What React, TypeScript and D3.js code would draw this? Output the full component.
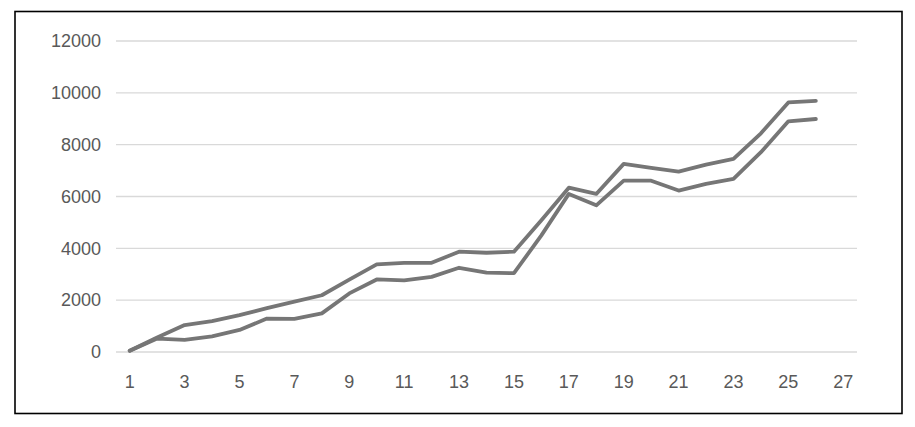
import React from "react";
import * as d3 from "d3";

const categories: number[] = d3.range(1, 28);
const xTickLabels: number[] = [1, 3, 5, 7, 9, 11, 13, 15, 17, 19, 21, 23, 25, 27];
const yTicks: number[] = [0, 2000, 4000, 6000, 8000, 10000, 12000];

const seriesUpper: number[] = [
  50, 560, 1040, 1190, 1420, 1690, 1940, 2190, 2790, 3380,
  3440, 3440, 3870, 3830, 3870, 5080, 6340, 6100, 7260, 7100,
  6960, 7230, 7450, 8440, 9630, 9690,
];
const seriesLower: number[] = [
  50, 520, 470, 600, 850, 1290, 1280, 1490, 2260, 2800,
  2760, 2900, 3250, 3060, 3040, 4500, 6100, 5660, 6610, 6610,
  6230, 6490, 6680, 7710, 8900, 8990,
];

const W = 915;
const H = 427;

export default function App() {
  const x = d3.scaleBand<number>().domain(categories).range([116, 857]);
  const y = d3.scaleLinear().domain([0, 12000]).range([352, 41]);
  const cx = (i: number) => (x(i + 1) as number) + x.bandwidth() / 2;
  const line = d3
    .line<number>()
    .x((_, i) => cx(i))
    .y((d) => y(d));

  const font = "'Liberation Sans', Arial, sans-serif";
  return (
    <div style={{ position: "absolute", left: 0, top: 0 }}>
      <svg width={W} height={H} style={{ display: "block", background: "#fff" }}>
        <rect x={15} y={11.5} width={887} height={402} fill="#fff" stroke="#000" strokeWidth={1.6} />
        {yTicks.map((t) => (
          <g key={t}>
            <line x1={116} x2={857} y1={y(t)} y2={y(t)} stroke="#d9d9d9" strokeWidth={1.3} />
            <text
              x={101}
              y={y(t)}
              dy="0.35em"
              textAnchor="end"
              fontFamily={font}
              fontSize={18}
              fill="#595959"
            >
              {t}
            </text>
          </g>
        ))}
        {xTickLabels.map((c) => (
          <text
            key={c}
            x={(x(c) as number) + x.bandwidth() / 2}
            y={388}
            textAnchor="middle"
            fontFamily={font}
            fontSize={18}
            fill="#595959"
          >
            {c}
          </text>
        ))}
        <path d={line(seriesLower) || ""} fill="none" stroke="#767676" strokeWidth={3.8} strokeLinejoin="round" strokeLinecap="round" />
        <path d={line(seriesUpper) || ""} fill="none" stroke="#767676" strokeWidth={3.8} strokeLinejoin="round" strokeLinecap="round" />
      </svg>
    </div>
  );
}
